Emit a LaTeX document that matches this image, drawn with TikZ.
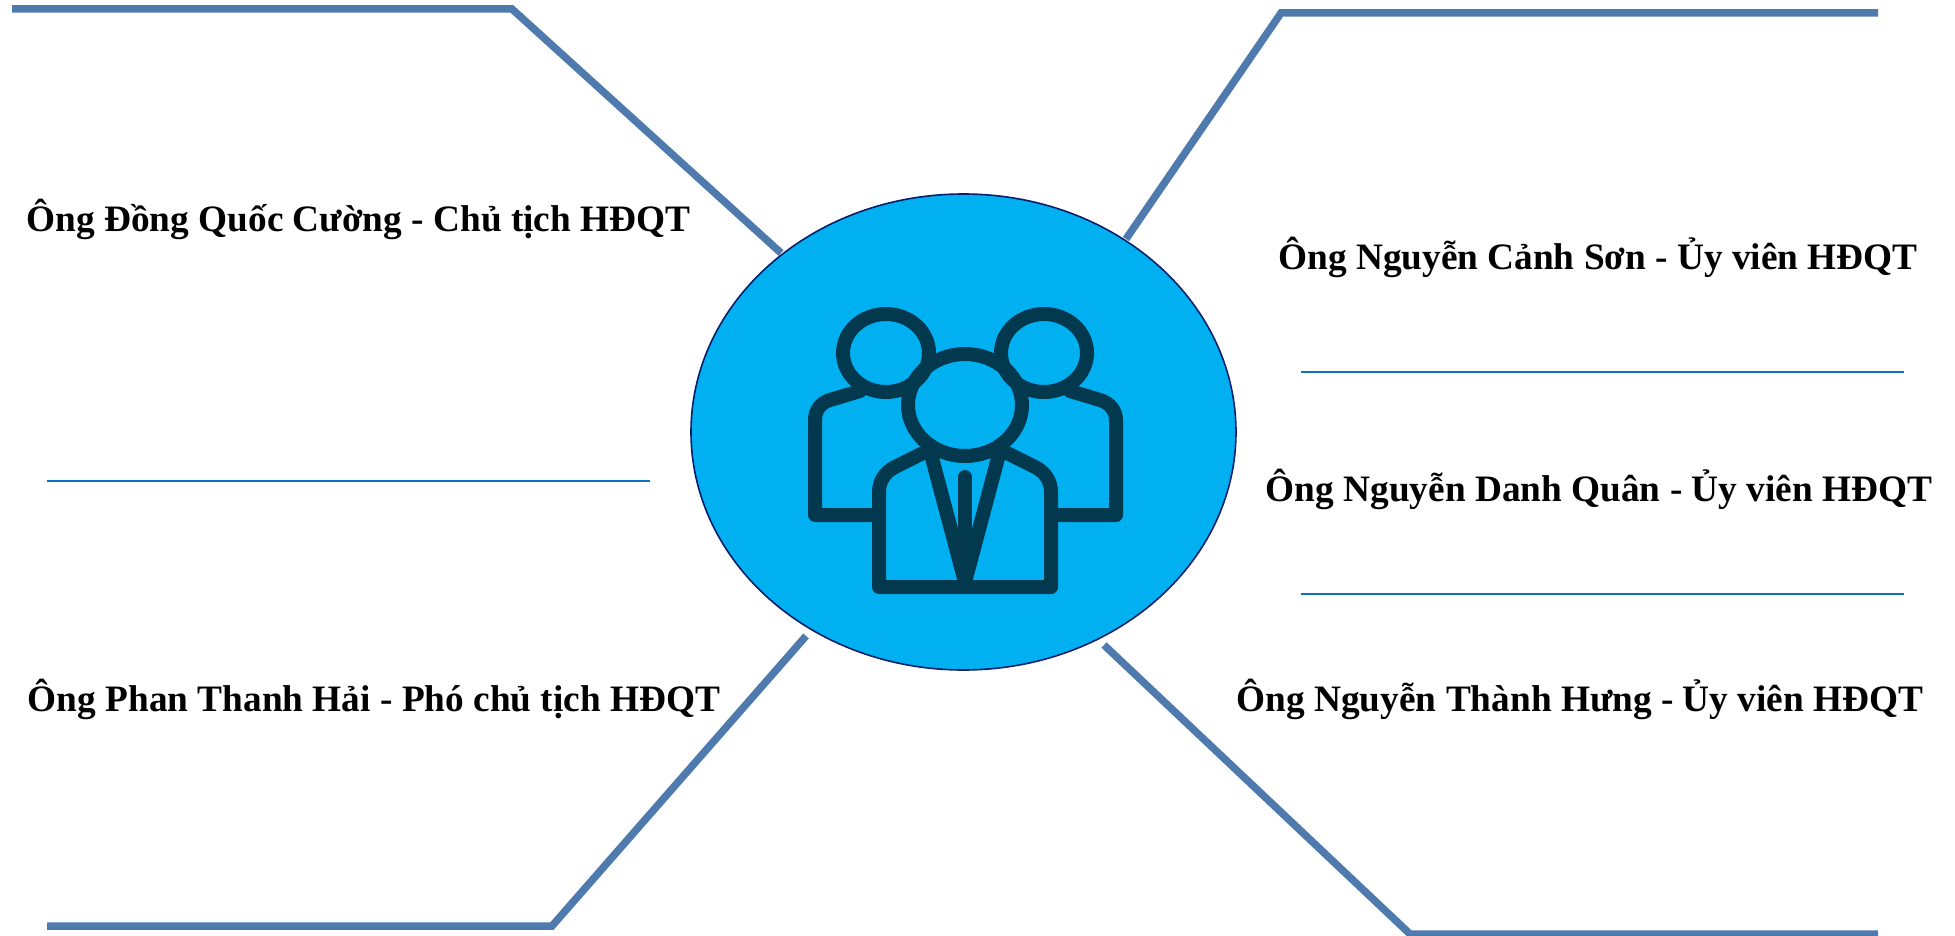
\documentclass[tikz,border=0pt]{standalone}
\usepackage{fontspec}
\setmainfont{Liberation Serif}
\usetikzlibrary{shapes.geometric}
\definecolor{steelline}{HTML}{4F7AAE}
\definecolor{thinline}{HTML}{0F6FC0}
\definecolor{discfill}{HTML}{00B0F0}
\definecolor{discedge}{HTML}{0A1F6B}
\definecolor{iconink}{HTML}{03394F}
\tikzset{
  member/.style={
    font=\fontsize{37.3}{40}\selectfont\bfseries,
    inner sep=0pt,
    text=black
  },
  disc/.style={
    ellipse,
    draw=discedge,
    line width=1.6pt,
    fill=discfill,
    minimum width=545pt,
    minimum height=476pt,
    inner sep=0pt
  }
}
\tikzstyle{branch} = [line width=7.5pt, draw=steelline, line join=miter]
\tikzstyle{divider} = [line width=1.6pt, draw=thinline]
\tikzstyle{icon} = [line width=14pt, draw=iconink, line join=round, line cap=round]
\begin{document}
\begin{tikzpicture}[x=1pt, y=-1pt]
    \useasboundingbox (0, 0) rectangle (1955, 936);
    \node[disc] (hub) at (963.5, 432) {};
    % branches
    \coordinate (tl0) at (12, 9);
    \coordinate (tl1) at (512, 9);
    \coordinate (tl2) at (781, 253);
    \coordinate (tr0) at (1878, 13);
    \coordinate (tr1) at (1281, 13);
    \coordinate (tr2) at (1126, 239);
    \coordinate (bl0) at (47, 926);
    \coordinate (bl1) at (552, 926);
    \coordinate (bl2) at (806, 636);
    \coordinate (br0) at (1878, 934);
    \coordinate (br1) at (1410, 934);
    \coordinate (br2) at (1104, 645);
    \draw[branch] (tl0) -- (tl1) -- (tl2);
    \draw[branch] (tr0) -- (tr1) -- (tr2);
    \draw[branch] (bl0) -- (bl1) -- (bl2);
    \draw[branch] (br0) -- (br1) -- (br2);
    % dividers
    \coordinate (dl0) at (47, 481);
    \coordinate (dl1) at (650, 481);
    \coordinate (da0) at (1301, 372);
    \coordinate (da1) at (1904, 372);
    \coordinate (db0) at (1301, 594);
    \coordinate (db1) at (1904, 594);
    \draw[divider] (dl0) -- (dl1);
    \draw[divider] (da0) -- (da1);
    \draw[divider] (db0) -- (db1);
    % names
    \node[member] (m0) at (358.5, 219) {Ông Đồng Quốc Cường - Chủ tịch HĐQT};
    \node[member] (m1) at (374, 699) {Ông Phan Thanh Hải - Phó chủ tịch HĐQT};
    \node[member] (m2) at (1598, 257) {Ông Nguyễn Cảnh Sơn - Ủy viên HĐQT};
    \node[member] (m3) at (1599, 489) {Ông Nguyễn Danh Quân - Ủy viên HĐQT};
    \node[member] (m4) at (1580, 699) {Ông Nguyễn Thành Hưng - Ủy viên HĐQT};
    % people icon
    \draw[icon] (886, 353) ellipse [x radius=43, y radius=39];
    \draw[icon] (1044, 353) ellipse [x radius=43, y radius=39];
    \draw[icon] (860, 391) -- (830, 400) .. controls (820, 403) and (815, 411) .. (815, 420) -- (815, 515) -- (873, 515);
    \draw[icon] (1070, 391) -- (1100, 400) .. controls (1110, 403) and (1116, 411) .. (1116, 420) -- (1116, 515) -- (1057, 515);
    \draw[icon] (965, 405) ellipse [x radius=57, y radius=51];
    \draw[icon, line width=8pt] (918, 372) -- (926, 364);
    \draw[icon, line width=8pt] (1012, 372) -- (1004, 364);
    \draw[icon] (923, 453) -- (895, 467) .. controls (885, 472) and (879, 481) .. (879, 492) -- (879, 587) -- (1051, 587) -- (1051, 492) .. controls (1051, 481) and (1045, 472) .. (1035, 467) -- (1007, 453);
    \draw[icon] (932, 458) -- (965, 582) -- (998, 458);
    \draw[icon] (965, 477) -- (965, 560);
    \fill[iconink] (956, 530) -- (974, 530) -- (965, 585) -- cycle;
\end{tikzpicture}
\end{document}
